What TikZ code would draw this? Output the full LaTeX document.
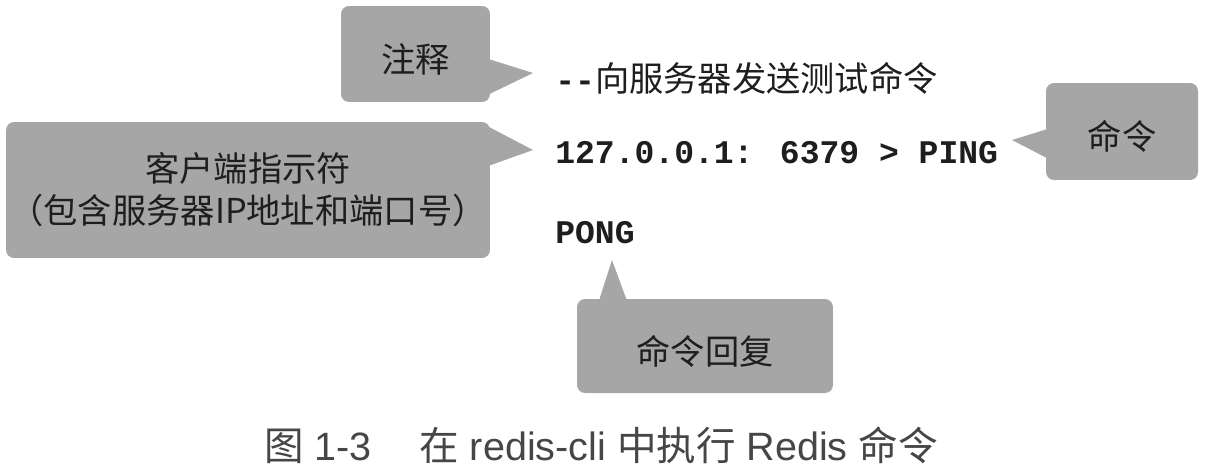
\documentclass[tikz,border=0pt]{standalone}
\usepackage{fontspec}
\usepackage{tikz}
\newfontfamily\cjk{Noto Sans CJK SC}
\newfontfamily\mono{Liberation Mono}
\newfontfamily\capfont{Liberation Sans}
\definecolor{boxgray}{RGB}{166,166,166}
\definecolor{inkgray}{RGB}{30,30,30}
\definecolor{capgray}{RGB}{70,70,70}

\begin{document}
\begin{tikzpicture}[x=0.02cm, y=-0.02cm,
  box/.style={fill=boxgray, rounded corners=0.16cm, inner sep=0pt, text=inkgray, align=center, font=\cjk\fontsize{19.5}{24}\selectfont},
  lowtext/.style={text height=21pt, text depth=0pt},
  line/.style={anchor=west, inner sep=0pt, text=inkgray, font=\mono\bfseries\fontsize{18.8}{22}\selectfont},
  callptr/.style={fill=boxgray}]

\useasboundingbox (0,0) rectangle (1206,471);

\node[box, lowtext, minimum width=2.98cm, minimum height=1.92cm] (note) at (415.5,54) {注释};
\node[box, minimum width=9.68cm, minimum height=2.72cm] (prompt) at (248,190) {客户端指示符\\（包含服务器IP地址和端口号）};
\node[box, lowtext, minimum width=3.04cm, minimum height=1.94cm] (cmd) at (1122,131.5) {命令};
\node[box, lowtext, minimum width=5.12cm, minimum height=1.88cm] (reply) at (705,346) {命令回复};

\node[line] (comment) at (555,78) {--{\cjk\mdseries\fontsize{19.5}{22}\selectfont 向服务器发送测试命令}};
\node[line] (ping) at (555,153) {127.0.0.1: 6379 > PING};
\node[line] (pong) at (555,233) {PONG};

\node[font=\capfont\fontsize{22.5}{26}\selectfont, text=capgray, inner sep=0pt] (caption) at (601,445)
  {{\cjk 图} 1-3\hspace{1.2em}{\cjk 在} redis-cli {\cjk 中执行} Redis {\cjk 命令}};

\coordinate (notetip) at (533,73);
\coordinate (prompttip) at (533,150);
\coordinate (cmdtip) at (1012,140);
\coordinate (replytip) at (612,260);

\fill[callptr] ([xshift=-0.1cm,yshift=-0.08cm]note.east) -- (notetip) -- ([xshift=-0.1cm,yshift=-0.84cm]note.east) -- cycle;
\fill[callptr] ([xshift=-0.1cm,yshift=1.3cm]prompt.east) -- (prompttip) -- ([xshift=-0.1cm,yshift=0.46cm]prompt.east) -- cycle;
\fill[callptr] ([xshift=0.1cm,yshift=0.07cm]cmd.west) -- (cmdtip) -- ([xshift=0.1cm,yshift=-0.57cm]cmd.west) -- cycle;
\fill[callptr] ([xshift=-2.14cm,yshift=-0.1cm]reply.north) -- (replytip) -- ([xshift=-1.54cm,yshift=-0.1cm]reply.north) -- cycle;
\end{tikzpicture}
\end{document}
